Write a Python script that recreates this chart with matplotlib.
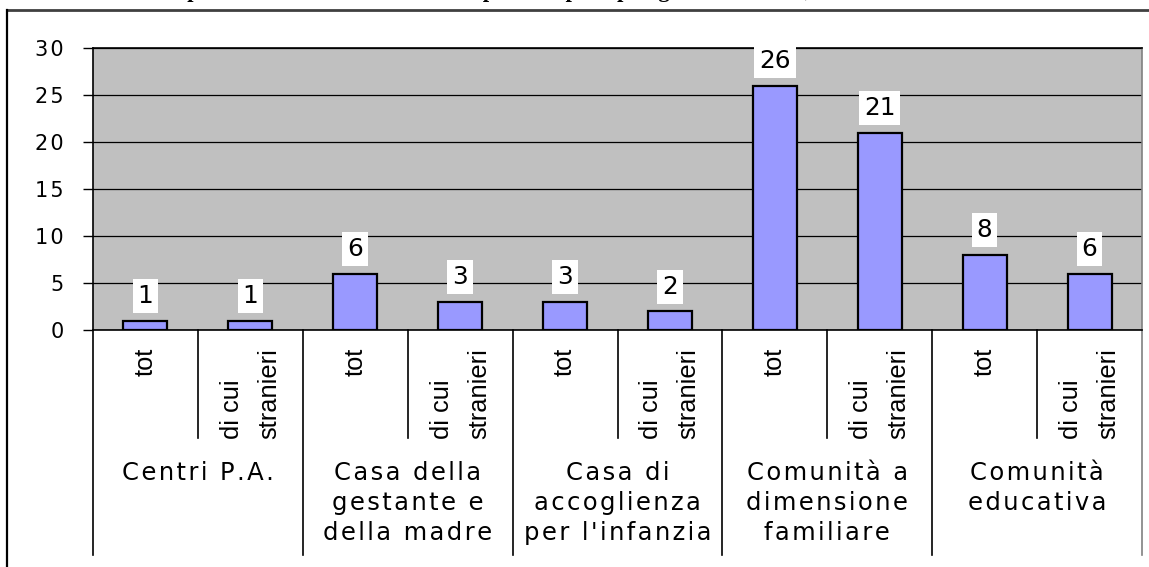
import matplotlib
matplotlib.use("Agg")
import matplotlib.pyplot as plt
import matplotlib.transforms as mtransforms
from matplotlib.lines import Line2D

# data
groups = ["Centri P.A.", "Casa della\ngestante e\ndella madre", "Casa di\naccoglienza\nper l'infanzia",
          "Comunità a\ndimensione\nfamiliare", "Comunità\neducativa"]
sub_labels = ["tot", "di cui\nstranieri"]
tot = [1, 6, 3, 26, 8]
stranieri = [1, 3, 2, 21, 6]
title = "Ospiti nelle strutture residenziali presenti per tipologia di struttura, di cui stranieri"

values = []
for t, s in zip(tot, stranieri):
    values += [t, s]
tick_labels = sub_labels * len(groups)

plt.rcParams['font.family'] = ['DejaVu Sans']


def spaced(s):
    # Excel-like loose letter spacing
    return '\n'.join('\u200a'.join(line) for line in s.split('\n'))


W, H = 1149, 567
fig = plt.figure(figsize=(W / 100, H / 100), dpi=100)
ax = fig.add_axes([93 / W, (H - 330) / H, (1142 - 93) / W, 282 / H])

x = list(range(len(values)))
ax.set_facecolor('#C0C0C0')
ax.bar(x, values, width=0.42, color='#9999FF', edgecolor='black', linewidth=1.6, zorder=3)
ax.set_xlim(-0.5, len(values) - 0.5)
ax.set_ylim(0, 30)

yt = list(range(0, 31, 5))
ax.set_yticks(yt)
ax.set_yticklabels([spaced(str(v)) for v in yt], fontsize=15)
ax.tick_params(axis='y', length=7, width=1, pad=14, color='black')
ax.yaxis.grid(True, color='black', linewidth=0.9, zorder=1)
ax.set_axisbelow(True)

ax.set_xticks(x)
ax.set_xticklabels(tick_labels, rotation=90, fontsize=18.3, multialignment='left', linespacing=1.7,
                   family=['Liberation Sans', 'DejaVu Sans'])
ax.tick_params(axis='x', length=0, pad=13)

for side in ['left', 'top', 'bottom']:
    ax.spines[side].set_color('black')
    ax.spines[side].set_linewidth(1.2)
ax.spines['right'].set_color('#808080')
ax.spines['right'].set_linewidth(1.2)

# value labels in white boxes
for xi, v in zip(x, values):
    ax.annotate(str(v), (xi, v), xytext=(0, 12.7), textcoords='offset points',
                ha='center', va='baseline', fontsize=17.8, zorder=5,
                bbox=dict(boxstyle='square,pad=0.2', facecolor='white', edgecolor='none'))

# category separators below the axis
trans = mtransforms.blended_transform_factory(ax.transData, ax.transAxes)
for i in range(len(values) + 1):
    xb = i - 0.5
    y_end = -0.798 if i % 2 == 0 else -0.383
    col = '#808080' if i == len(values) else 'black'
    ax.add_line(Line2D([xb, xb], [0, y_end], transform=trans, color=col,
                       linewidth=1.2, clip_on=False))

for g, name in enumerate(groups):
    ax.text(2 * g + 0.5, -0.465, spaced(name), transform=trans, ha='center', va='top',
            multialignment='center', fontsize=17.5, linespacing=1.3)

# chart area frame (clipped at right and bottom)
fig.add_artist(Line2D([7 / W, 1], [1 - 10 / H, 1 - 10 / H], transform=fig.transFigure,
                      color='#404040', linewidth=2))
fig.add_artist(Line2D([7 / W, 7 / W], [0, 1 - 10 / H], transform=fig.transFigure,
                      color='black', linewidth=1.6))

# title, mostly cut off at the top edge
fig.text(161 / W, 1 + 3 / H, title, ha='left', va='baseline', fontsize=16.2,
         fontweight='bold', family=['Liberation Serif', 'DejaVu Serif'])

fig.savefig('out.png', dpi=100)
